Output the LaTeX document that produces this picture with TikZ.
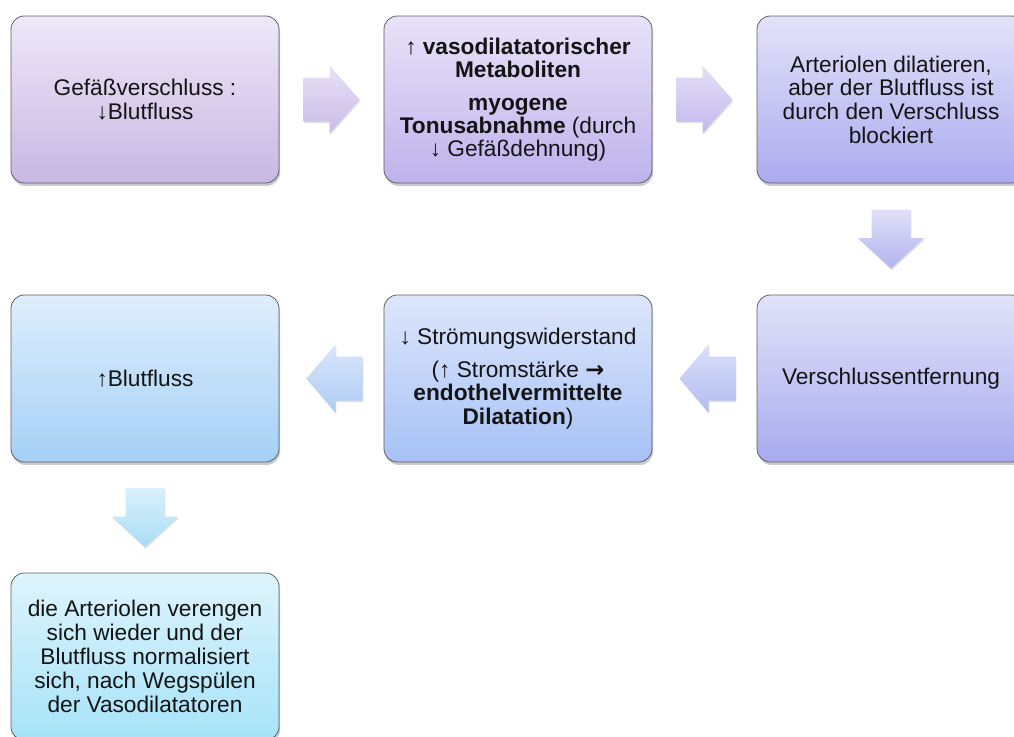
\documentclass[tikz,border=0pt]{standalone}
\usepackage{fontspec}
\setmainfont{Liberation Sans}
\newfontfamily\arrowfont{DejaVu Sans}
\usetikzlibrary{calc,shadows}
\definecolor{bdr}{HTML}{5E5E66}
\definecolor{txt}{HTML}{141414}
\begin{document}
\begin{tikzpicture}[x=0.75pt,y=-0.75pt,
  box/.style={draw=bdr, line width=0.6pt, rounded corners=10pt,
    minimum width=201pt, minimum height=125.25pt, inner sep=3pt,
    align=center, text=txt, font=\fontsize{17}{17.5}\selectfont,
    drop shadow={shadow xshift=0.8pt, shadow yshift=-2.2pt, opacity=0.35, fill=black!60}},
  blockarrow/.style={draw=none,
    drop shadow={shadow xshift=0.6pt, shadow yshift=-1.2pt, opacity=0.2, fill=black!60}}]
\useasboundingbox (0,0) rectangle (1014,736);

\node[box, top color={rgb,255:red,238;green,232;blue,247}, bottom color={rgb,255:red,200;green,183;blue,227}] (b1) at (145,99.5)
  {Gefäßverschluss :\\↓Blutfluss};
\node[box, top color={rgb,255:red,232;green,227;blue,248}, bottom color={rgb,255:red,190;green,178;blue,236}] (b2) at (518,99.5)
  {↑ \textbf{vasodilatatorischer}\\\textbf{Metaboliten}\\[7pt]\textbf{myogene}\\\textbf{Tonusabnahme} (durch\\↓ Gefäßdehnung)};
\node[box, top color={rgb,255:red,227;green,226;blue,249}, bottom color={rgb,255:red,172;green,170;blue,239}, font=\fontsize{17}{17.8}\selectfont] (b3) at (891,99.5)
  {Arteriolen dilatieren,\\aber der Blutfluss ist\\durch den Verschluss\\blockiert};
\node[box, top color={rgb,255:red,226;green,227;blue,249}, bottom color={rgb,255:red,168;green,170;blue,240}] (b4) at (891,378.5)
  {Verschlussentfernung};
\node[box, top color={rgb,255:red,221;green,230;blue,251}, bottom color={rgb,255:red,166;green,193;blue,246}] (b5) at (518,378.5)
  {↓ Strömungswiderstand\\[7pt](↑ Stromstärke {\arrowfont\bfseries →}\\\textbf{endothelvermittelte}\\\textbf{Dilatation})};
\node[box, top color={rgb,255:red,222;green,238;blue,252}, bottom color={rgb,255:red,165;green,208;blue,246}] (b6) at (145,378.5)
  {↑Blutfluss};
\node[box, top color={rgb,255:red,222;green,244;blue,252}, bottom color={rgb,255:red,166;green,227;blue,248}, font=\fontsize{17}{18}\selectfont] (b7) at (145,656.5)
  {die Arteriolen verengen\\sich wieder und der\\Blutfluss normalisiert\\sich, nach Wegspülen\\der Vasodilatatoren};

\coordinate (a1) at ($(b1.east)!0.5!(b2.west)$);
\coordinate (a2) at ($(b2.east)!0.5!(b3.west)$);
\coordinate (a3) at ($(b3.south)!0.5!(b4.north)$);
\coordinate (a4) at ($(b4.west)!0.5!(b5.east)$);
\coordinate (a5) at ($(b5.west)!0.5!(b6.east)$);
\coordinate (a6) at ($(b6.south)!0.5!(b7.north)$);

% right arrows
\path[blockarrow, shift={(a1)}, top color={rgb,255:red,233;green,225;blue,246}, bottom color={rgb,255:red,201;green,187;blue,232}]
  (-28,-22) -- (-2,-22) -- (-2,-34) -- (28,0) -- (-2,34) -- (-2,22) -- (-28,22) -- cycle;
\path[blockarrow, shift={(a2)}, top color={rgb,255:red,228;green,223;blue,247}, bottom color={rgb,255:red,194;green,184;blue,238}]
  (-28,-22) -- (-2,-22) -- (-2,-34) -- (28,0) -- (-2,34) -- (-2,22) -- (-28,22) -- cycle;
% down arrows
\path[blockarrow, shift={(a3)}, top color={rgb,255:red,224;green,224;blue,249}, bottom color={rgb,255:red,179;green,179;blue,240}]
  (-19.5,-29.5) -- (19.5,-29.5) -- (19.5,-1) -- (33,-1) -- (0,29.5) -- (-33,-1) -- (-19.5,-1) -- cycle;
\path[blockarrow, shift={(a6)}, top color={rgb,255:red,218;green,241;blue,252}, bottom color={rgb,255:red,168;green,221;blue,246}]
  (-19.5,-29.5) -- (19.5,-29.5) -- (19.5,-1) -- (33,-1) -- (0,29.5) -- (-33,-1) -- (-19.5,-1) -- cycle;
% left arrows
\path[blockarrow, shift={($(a4)+(3,0)$)}, top color={rgb,255:red,218;green,223;blue,249}, bottom color={rgb,255:red,178;green,189;blue,242}]
  (28,-22) -- (1,-22) -- (1,-34) -- (-28,0) -- (1,34) -- (1,22) -- (28,22) -- cycle;
\path[blockarrow, shift={($(a5)+(3,0)$)}, top color={rgb,255:red,218;green,231;blue,251}, bottom color={rgb,255:red,174;green,203;blue,244}]
  (28,-22) -- (1,-22) -- (1,-34) -- (-28,0) -- (1,34) -- (1,22) -- (28,22) -- cycle;
\end{tikzpicture}
\end{document}
